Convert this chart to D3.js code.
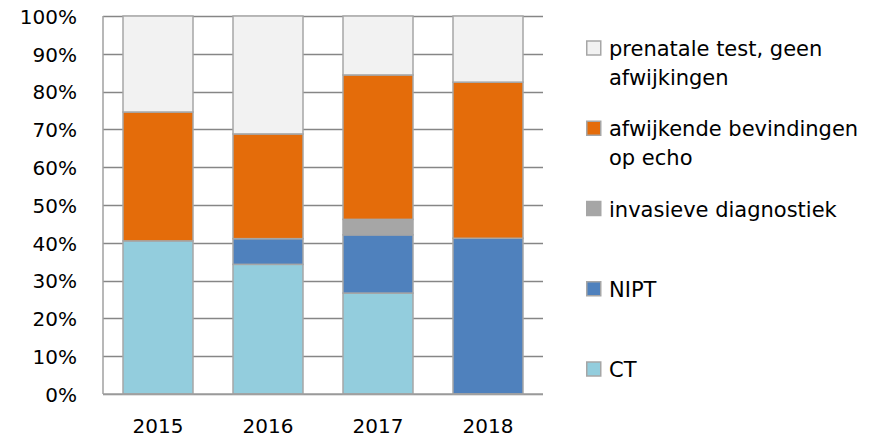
<!DOCTYPE html>
<html>
<head>
<meta charset="utf-8">
<script src="https://cdn.jsdelivr.net/npm/d3@7"></script>
<style>
  body { margin: 0; background: #fff; }
  text { font-family: "DejaVu Sans", sans-serif; font-size: 20px; fill: #000; }
</style>
</head>
<body>
<div id="vis"></div>
<script>
// chart values (percent of total per year)
var years = ['2015', '2016', '2017', '2018'];
var ct = [40.5, 34.3, 26.7, 0];
var nipt = [0, 6.8, 15.4, 41.2];
var invasief = [0, 0, 4.1, 0];
var echo = [34.1, 27.7, 38.2, 41.3];
var geen = [25.4, 31.2, 15.6, 17.5];
var yTicks = [0, 0.1, 0.2, 0.3, 0.4, 0.5, 0.6, 0.7, 0.8, 0.9, 1];

var seriesKeys = ['ct', 'nipt', 'invasief', 'echo', 'geen'];
var colors = ['#93CDDD', '#4F81BD', '#A6A6A6', '#E46C0A', '#F2F2F2'];

// legend labels, split over lines like the original
var legendLines = [
	['CT'],
	['NIPT'],
	['invasieve diagnostiek'],
	['afwijkende bevindingen', 'op echo'],
	['prenatale test, geen', 'afwijkingen']
];

var width = 885, height = 439;
var plot = {left: 103, right: 543, top: 16, bottom: 394};

var svg = d3.select('#vis')
	.append('svg')
	.attr('width', width)
	.attr('height', height);

// build rows for d3.stack
var rows = years.map(function(y, i) {
	return {year: y, ct: ct[i], nipt: nipt[i], invasief: invasief[i], echo: echo[i], geen: geen[i]};
});

var stack = d3.stack()
	.keys(seriesKeys)
	.offset(d3.stackOffsetExpand);
var layers = stack(rows);

var x = d3.scaleBand()
	.domain(years)
	.range([plot.left, plot.right])
	.paddingInner(40 / 110)
	.paddingOuter(20 / 110);

var y = d3.scaleLinear()
	.domain([0, 1])
	.range([plot.bottom, plot.top]);

// gridlines
svg.append('g')
	.selectAll('line')
	.data(yTicks)
	.enter()
	.append('line')
	.attr('x1', plot.left)
	.attr('x2', plot.right)
	.attr('y1', function(d) { return Math.round(y(d)) + 0.5; })
	.attr('y2', function(d) { return Math.round(y(d)) + 0.5; })
	.style('stroke', '#868686')
	.style('stroke-width', 1.3);

// y axis labels
var yAxis = d3.axisLeft(y)
	.tickValues(yTicks)
	.tickSize(0)
	.tickPadding(26)
	.tickFormat(d3.format('.0%'));

var gy = svg.append('g')
	.attr('transform', 'translate(' + plot.left + ',0)')
	.call(yAxis);
gy.select('.domain').remove();
gy.selectAll('text')
	.attr('dy', '0.36em')
	.style('font-family', '"DejaVu Sans", sans-serif')
	.style('font-size', '20px');

// bars
svg.append('g')
	.selectAll('g')
	.data(layers)
	.enter()
	.append('g')
	.style('fill', function(d, i) { return colors[i]; })
	.selectAll('rect')
	.data(function(d) { return d; })
	.enter()
	.filter(function(d) { return d[1] - d[0] > 0; })
	.append('rect')
	.attr('x', function(d) { return x(d.data.year); })
	.attr('width', x.bandwidth())
	.attr('y', function(d) { return y(d[1]); })
	.attr('height', function(d) { return y(d[0]) - y(d[1]); })
	.style('stroke', '#A6A6A6')
	.style('stroke-width', 1.5);

// left and bottom axis lines
svg.append('line')
	.attr('x1', plot.left).attr('x2', plot.left)
	.attr('y1', plot.top).attr('y2', plot.bottom)
	.style('stroke', '#A0A0A0')
	.style('stroke-width', 1.5);
svg.append('line')
	.attr('x1', plot.left).attr('x2', plot.right)
	.attr('y1', plot.bottom).attr('y2', plot.bottom)
	.style('stroke', '#A0A0A0')
	.style('stroke-width', 1.5);

// x axis labels
var xAxis = d3.axisBottom(x).tickSize(0).tickPadding(25);
var gx = svg.append('g')
	.attr('transform', 'translate(0,' + plot.bottom + ')')
	.call(xAxis);
gx.select('.domain').remove();
gx.selectAll('text')
	.style('font-family', '"DejaVu Sans", sans-serif')
	.style('font-size', '20px');

// legend, top item is the last series
var legendY = d3.scalePoint()
	.domain(seriesKeys.slice().reverse())
	.range([56, 377]);

var legend = svg.append('g')
	.selectAll('g')
	.data(seriesKeys)
	.enter()
	.append('g')
	.attr('transform', function(d) { return 'translate(586,' + legendY(d) + ')'; });

legend.append('rect')
	.attr('x', 0.75)
	.attr('y', -15)
	.attr('width', 14)
	.attr('height', 14)
	.style('fill', function(d, i) { return colors[i]; })
	.style('stroke', '#A6A6A6')
	.style('stroke-width', 1.5);

legend.append('text')
	.attr('x', 23)
	.style('font-size', '21px')
	.selectAll('tspan')
	.data(function(d, i) { return legendLines[i]; })
	.enter()
	.append('tspan')
	.attr('x', 23)
	.attr('y', function(d, j) { return j * 28.5; })
	.text(function(d) { return d; });
</script>
</body>
</html>
